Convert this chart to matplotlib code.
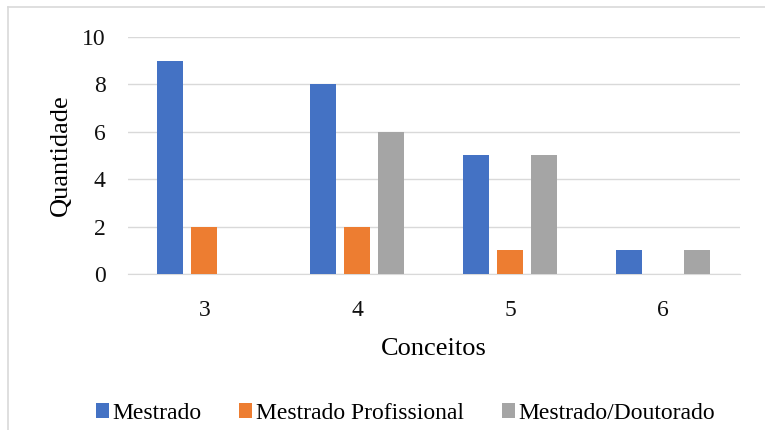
import matplotlib
matplotlib.use('Agg')
import matplotlib.pyplot as plt
import numpy as np
from matplotlib.lines import Line2D

plt.rcParams['font.family'] = ['Liberation Serif', 'DejaVu Serif']

conceitos = ['3', '4', '5', '6']
series = ['Mestrado', 'Mestrado Profissional', 'Mestrado/Doutorado']
mestrado = [9, 8, 5, 1]
mestrado_prof = [2, 2, 1, 0]
mestrado_dout = [0, 6, 5, 1]
cores = ['#4472C4', '#ED7D31', '#A5A5A5']

fig = plt.figure(figsize=(7.65, 4.3), dpi=100)
ax = fig.add_axes([0.167, 0.363, 0.8, 0.551])

x = np.arange(3, 7)
w = 0.17
offs = [-0.222, 0, 0.222]
for vals, off, cor, nome in zip([mestrado, mestrado_prof, mestrado_dout], offs, cores, series):
    ax.bar(x + off, vals, width=w, color=cor, label=nome, zorder=3)

ax.set_xlim(2.5, 6.5)
ax.set_ylim(0, 10)
ax.set_yticks(range(0, 11, 2))
ax.set_xticks(x)
ax.set_xticklabels(conceitos)
ax.grid(axis='y', color='#d9d9d9', linewidth=1, zorder=0)
for s in ['top', 'right', 'left']:
    ax.spines[s].set_visible(False)
ax.spines['bottom'].set_color('#d9d9d9')
ax.tick_params(length=0, labelsize=17, colors='#111111')
ax.tick_params(axis='x', pad=19)
ax.tick_params(axis='y', pad=16)
ax.set_xlabel('Conceitos', fontsize=19, labelpad=12)
ax.set_ylabel('Quantidade', fontsize=19, labelpad=7)

fig.legend(loc='lower center', bbox_to_anchor=(0.53, -0.035), ncol=3, frameon=False,
           fontsize=17, handlelength=0.55, handleheight=0.55, handletextpad=0.15,
           columnspacing=1.6)

# moldura cinza
fig.add_artist(Line2D([8/765, 8/765], [0, 1 - 7/430], color='#d9d9d9', lw=1.2))
fig.add_artist(Line2D([8/765, 1], [1 - 7/430, 1 - 7/430], color='#d9d9d9', lw=1.2))

fig.savefig('out.png', dpi=100)
